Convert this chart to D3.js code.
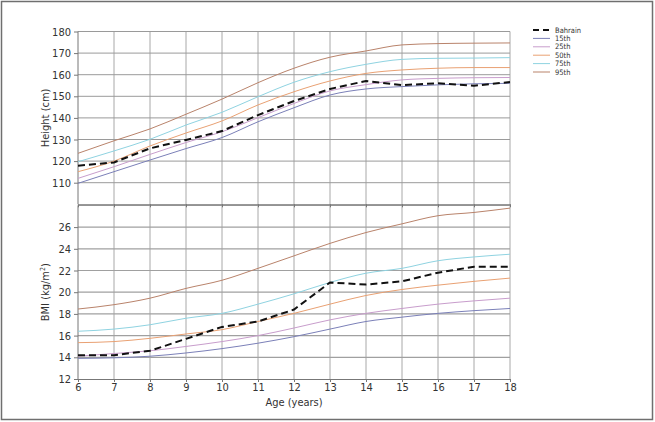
<!DOCTYPE html>
<html><head><meta charset="utf-8">
<script src="https://cdn.jsdelivr.net/npm/d3@7"></script>
<style>
body{margin:0;background:#fff;}
svg{display:block;}
text{font-family:"Liberation Sans Narrow","DejaVu Sans Condensed","Arial Narrow",sans-serif;fill:#333;}
</style></head>
<body><svg id="c" width="655" height="422"></svg>
<script>
const ages = [6,7,8,9,10,11,12,13,14,15,16,17,18];
const seriesNames = ["Bahrain","15th","25th","50th","75th","95th"];
const seriesColors = ["#111111","#7b80b8","#c89dcc","#e9a173","#8fd3e1","#b9836b"];

// Height (cm)
const heightBahrain = [117.9,119.4,125.9,129.8,133.9,141.3,147.8,153.4,157.1,155.2,156.0,154.9,156.6];
const height15 = [109.7,115.1,120.5,125.8,130.9,138.2,144.7,150.6,153.4,154.5,155.3,155.8,156.0];
const height25 = [112.0,117.4,123.1,128.6,133.6,140.1,146.7,152.5,155.4,157.6,158.3,158.6,158.7];
const height50 = [115.1,120.0,127.0,133.0,138.6,146.0,152.1,157.1,160.6,162.2,163.0,163.3,163.3];
const height75 = [119.7,124.7,130.1,136.7,142.6,149.8,156.5,161.4,164.8,167.1,167.6,167.7,167.9];
const height95 = [123.6,129.4,134.9,141.7,148.7,156.3,163.0,168.1,171.0,173.8,174.4,174.6,174.7];
const heightTicks = [110,120,130,140,150,160,170,180];

// BMI (kg/m2)
const bmiBahrain = [14.2,14.2,14.6,15.7,16.8,17.3,18.4,20.9,20.7,21.0,21.8,22.35,22.35];
const bmi15 = [13.9,13.95,14.1,14.4,14.8,15.3,15.9,16.6,17.3,17.7,18.05,18.3,18.5];
const bmi25 = [14.1,14.35,14.6,15.0,15.45,16.0,16.7,17.45,18.05,18.5,18.9,19.2,19.45];
const bmi50 = [15.35,15.45,15.75,16.15,16.55,17.3,18.05,18.9,19.7,20.25,20.65,21.0,21.3];
const bmi75 = [16.4,16.6,17.0,17.6,18.05,18.9,19.85,20.9,21.75,22.2,22.9,23.25,23.5];
const bmi95 = [18.45,18.85,19.45,20.35,21.1,22.2,23.35,24.5,25.5,26.3,27.05,27.35,27.75];
const bmiTicks = [12,14,16,18,20,22,24,26];

const heightSeries = [heightBahrain,height15,height25,height50,height75,height95];
const bmiSeries = [bmiBahrain,bmi15,bmi25,bmi50,bmi75,bmi95];

const svg = d3.select("#c");
svg.append("rect").attr("x",1.5).attr("y",1.5).attr("width",651).attr("height",418)
  .attr("fill","none").attr("stroke","#6f6f6f").attr("stroke-width",1.5);

const x = d3.scaleLinear().domain([6,18]).range([78,510]);
const yH = d3.scaleLinear().domain([100,180]).range([204.3,31.5]);
const yB = d3.scaleLinear().domain([12,28]).range([379,205.4]);

const grid = svg.append("g");
grid.selectAll("line.v").data(ages.slice(1)).join("line")
  .attr("x1",d=>x(d)).attr("x2",d=>x(d)).attr("y1",yH(180)).attr("y2",yB(12))
  .attr("stroke","#a8a8a8").attr("stroke-width",1);
grid.selectAll("line.h1").data(heightTicks).join("line")
  .attr("x1",x(6)).attr("x2",x(18)).attr("y1",d=>yH(d)).attr("y2",d=>yH(d))
  .attr("stroke","#9a9a9a").attr("stroke-width",1);
grid.selectAll("line.h2").data(bmiTicks.slice(1).concat([28])).join("line")
  .attr("x1",x(6)).attr("x2",x(18)).attr("y1",d=>yB(d)).attr("y2",d=>yB(d))
  .attr("stroke","#a0a0a0").attr("stroke-width",1.2);

const FF = "\"Liberation Sans Narrow\",\"DejaVu Sans Condensed\",sans-serif";
const axStyle = g=>{g.selectAll("path").attr("stroke","#777");g.selectAll("line").attr("stroke","#777");
  g.selectAll("text").attr("font-size",11).attr("fill","#333").style("font-family",FF);};
svg.append("g").attr("transform",`translate(${x(6)},0)`)
  .call(d3.axisLeft(yH).tickValues(heightTicks).tickSize(4).tickSizeOuter(0).tickPadding(3)).call(axStyle)
  .call(g=>g.select("path").attr("d",`M0,${yH(180)}V${yH(100)}`));
svg.append("g").attr("transform",`translate(${x(6)},0)`)
  .call(d3.axisLeft(yB).tickValues(bmiTicks).tickSize(4).tickSizeOuter(0).tickPadding(3)).call(axStyle)
  .call(g=>g.select("path").attr("d",`M0,${yB(28)}V${yB(12)}`));
svg.append("g").attr("transform",`translate(0,${yH(100)})`)
  .call(d3.axisBottom(x).tickValues(ages).tickSize(3).tickSizeOuter(0).tickFormat(""))
  .call(axStyle);
svg.append("g").attr("transform",`translate(0,${yB(12)})`)
  .call(d3.axisBottom(x).tickValues(ages).tickSize(3).tickSizeOuter(0).tickPadding(1).tickFormat(d3.format("d")))
  .call(axStyle);

svg.append("text").attr("transform",`translate(49,${(yH(180)+yH(100))/2}) rotate(-90)`)
  .attr("text-anchor","middle").attr("font-size",11).text("Height (cm)");
const bt = svg.append("text").attr("transform",`translate(49,${(yB(28)+yB(12))/2}) rotate(-90)`)
  .attr("text-anchor","middle").attr("font-size",11);
bt.append("tspan").text("BMI (kg/m");
bt.append("tspan").attr("font-size",7).attr("dy",-4).text("2");
bt.append("tspan").attr("dy",4).text(")");
svg.append("text").attr("x",(x(6)+x(18))/2).attr("y",406).attr("text-anchor","middle")
  .attr("font-size",11).text("Age (years)");

function drawSet(series, y){
  const g = svg.append("g");
  for(let i=series.length-1;i>=0;i--){
    const line = d3.line().x((d,j)=>x(ages[j])).y(d=>y(d))
      .curve(i===0?d3.curveLinear:d3.curveMonotoneX);
    g.append("path").datum(series[i]).attr("d",line).attr("fill","none")
      .attr("stroke",seriesColors[i]).attr("stroke-width",i===0?2:1)
      .attr("stroke-dasharray",i===0?"7,4":null);
  }
}
drawSet(heightSeries,yH);
drawSet(bmiSeries,yB);

const lg = svg.append("g");
seriesNames.forEach((n,i)=>{
  const yy = 30 + i*8.4;
  lg.append("line").attr("x1",533).attr("x2",550).attr("y1",yy).attr("y2",yy)
    .attr("stroke",seriesColors[i]).attr("stroke-width",i===0?2:1)
    .attr("stroke-dasharray",i===0?"6,4":null);
  lg.append("text").attr("x",555).attr("y",yy+2.6).attr("font-size",7.5).text(n);
});
</script></body></html>
